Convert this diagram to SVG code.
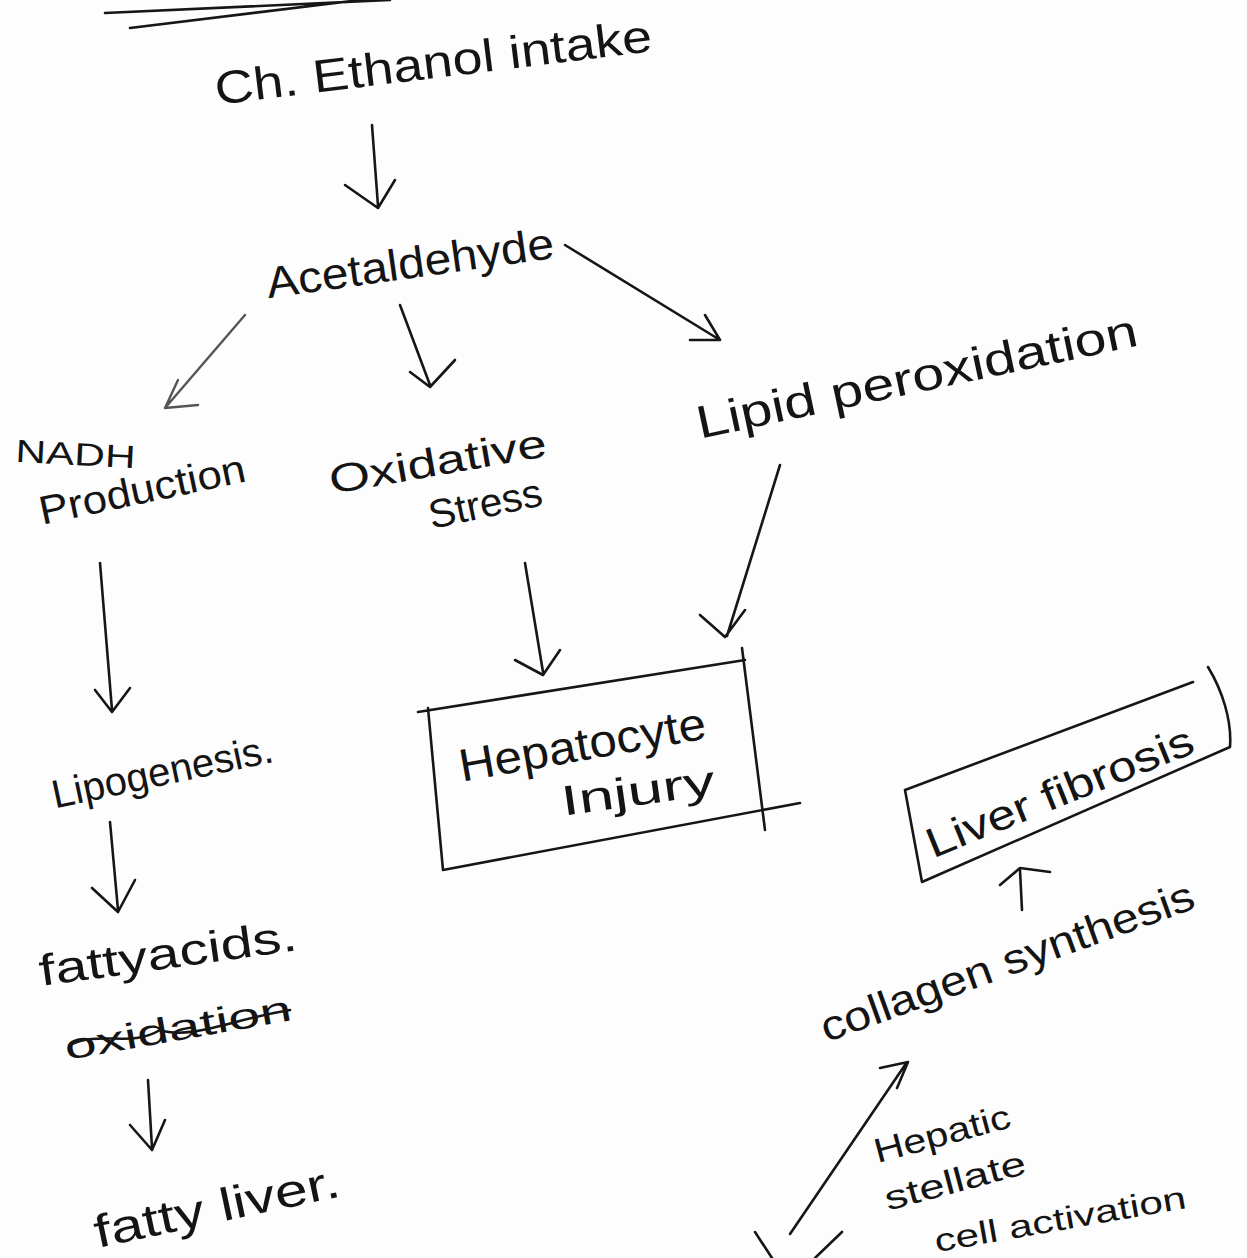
<svg xmlns="http://www.w3.org/2000/svg" width="1247" height="1258" viewBox="0 0 1247 1258">
<style>
.t{font-family:"Liberation Sans","DejaVu Sans",sans-serif;fill:#141414;text-anchor:middle}
.l{fill:none;stroke:#161616;stroke-width:2.6;stroke-linecap:round;stroke-linejoin:round}
.g{fill:none;stroke:#555;stroke-width:2.4;stroke-linecap:round;stroke-linejoin:round}
</style>
<rect width="1247" height="1258" fill="#fdfdfd"/>
<g id="header">
<path class="l" d="M105 13 L390 0 M130 28 L360 0"/>
</g>
<g id="ethanol"><text class="t" font-size="46" transform="translate(435,78) rotate(-7)" textLength="440" lengthAdjust="spacingAndGlyphs">Ch. Ethanol intake</text></g>
<g id="acetaldehyde"><text class="t" font-size="44" transform="translate(412,278) rotate(-8)" textLength="290" lengthAdjust="spacingAndGlyphs">Acetaldehyde</text></g>
<g id="nadh">
<text class="t" font-size="32" transform="translate(75,465) rotate(3)" textLength="120" lengthAdjust="spacingAndGlyphs">NADH</text>
<text class="t" font-size="40" transform="translate(145,503) rotate(-12)" textLength="210" lengthAdjust="spacingAndGlyphs">Production</text>
</g>
<g id="oxidative">
<text class="t" font-size="40" transform="translate(440,475) rotate(-10)" textLength="220" lengthAdjust="spacingAndGlyphs">Oxidative</text>
<text class="t" font-size="40" transform="translate(488,517) rotate(-12)" textLength="115" lengthAdjust="spacingAndGlyphs">Stress</text>
</g>
<g id="lipid"><text class="t" font-size="46" transform="translate(920,392) rotate(-12)" textLength="450" lengthAdjust="spacingAndGlyphs">Lipid peroxidation</text></g>
<g id="hepatocyte">
<path class="l" d="M418 712 L745 660 M428 708 L443 870 L800 803 M742 648 L765 830"/>
<text class="t" font-size="46" transform="translate(585,760) rotate(-10)" textLength="250" lengthAdjust="spacingAndGlyphs">Hepatocyte</text>
<text class="t" font-size="42" transform="translate(640,805) rotate(-8)" textLength="155" lengthAdjust="spacingAndGlyphs">Injury</text>
</g>
<g id="lipogenesis"><text class="t" font-size="40" transform="translate(165,785) rotate(-12)" textLength="225" lengthAdjust="spacingAndGlyphs">Lipogenesis.</text></g>
<g id="fattyacids">
<text class="t" font-size="44" transform="translate(170,968) rotate(-8)" textLength="260" lengthAdjust="spacingAndGlyphs">fattyacids.</text>
<text class="t" font-size="36" transform="translate(180,1040) rotate(-10)" textLength="230" lengthAdjust="spacingAndGlyphs">oxidation</text>
<path class="l" d="M70 1045 C100 1030 130 1048 160 1030 C190 1040 230 1020 290 1010" stroke-width="2"/>
</g>
<g id="fattyliver"><text class="t" font-size="46" transform="translate(220,1222) rotate(-12)" textLength="250" lengthAdjust="spacingAndGlyphs">fatty liver.</text></g>
<g id="fibrosis">
<path class="l" d="M905 790 L1193 682 M1208 667 C1222 690 1232 720 1230 747 L922 882 L905 790"/>
<text class="t" font-size="42" transform="translate(1065,805) rotate(-22)" textLength="285" lengthAdjust="spacingAndGlyphs">Liver fibrosis</text>
</g>
<g id="collagen"><text class="t" font-size="42" transform="translate(1012,975) rotate(-20)" textLength="395" lengthAdjust="spacingAndGlyphs">collagen synthesis</text></g>
<g id="stellate">
<text class="t" font-size="34" transform="translate(945,1145) rotate(-15)" textLength="140" lengthAdjust="spacingAndGlyphs">Hepatic</text>
<text class="t" font-size="34" transform="translate(958,1192) rotate(-15)" textLength="145" lengthAdjust="spacingAndGlyphs">stellate</text>
<text class="t" font-size="32" transform="translate(1062,1230) rotate(-10)" textLength="255" lengthAdjust="spacingAndGlyphs">cell activation</text>
</g>
<g id="connectors">
<path class="l" d="M372 125 L378 206 M345 185 L378 208 L395 180"/>
<path class="l" d="M565 245 L720 340 M690 340 L720 340 L705 315"/>
<path class="g" d="M245 315 L165 408 M198 405 L165 408 L178 380"/>
<path class="l" d="M400 305 L430 385 M410 372 L430 387 L455 360"/>
<path class="l" d="M100 563 L112 710 M95 690 L112 712 L130 688"/>
<path class="l" d="M525 563 L543 672 M515 660 L543 675 L560 650"/>
<path class="l" d="M780 465 L727 636 M700 615 L725 637 L745 610"/>
<path class="l" d="M110 822 L118 910 M92 888 L118 912 L135 880"/>
<path class="l" d="M148 1080 L152 1148 M130 1125 L152 1150 L165 1120"/>
<path class="l" d="M1022 910 L1020 870 M1000 885 L1020 868 L1050 872"/>
<path class="l" d="M790 1234 L905 1065 M880 1068 L908 1062 L897 1088"/>
<path class="l" d="M755 1232 L772 1258 M842 1232 L815 1258"/>
</g>
</svg>
